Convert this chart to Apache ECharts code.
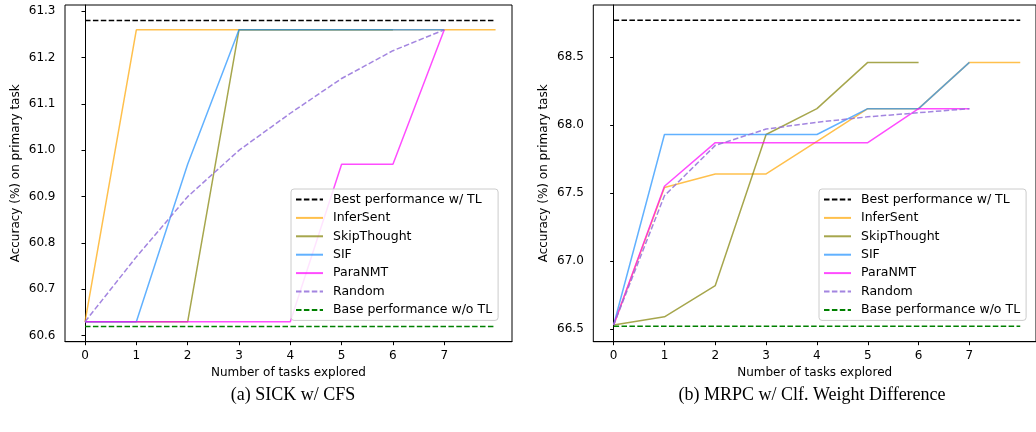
<!DOCTYPE html>
<html>
<head>
<meta charset="utf-8">
<script src="https://cdn.jsdelivr.net/npm/echarts@6/dist/echarts.min.js"></script>
<style>
  html, body { margin: 0; padding: 0; background: #fff; }
  #chart { width: 1036px; height: 432px; }
</style>
</head>
<body>
<div id="chart"></div>
<script>
// tasks explored (x values)
const steps = [0, 1, 2, 3, 4, 5, 6, 7, 8];
const xTicks = [0, 1, 2, 3, 4, 5, 6, 7];

// (a) SICK w/ CFS
const sickTicks = [60.6, 60.7, 60.8, 60.9, 61.0, 61.1, 61.2, 61.3];
const sickBest = 61.28;
const sickBase = 60.62;
const sickInferSent = [60.63, 61.26, 61.26, 61.26, 61.26, 61.26, 61.26, 61.26, 61.26];
const sickSkipThought = [60.63, 60.63, 60.63, 61.26, 61.26, 61.26, 61.26];
const sickSIF = [60.63, 60.63, 60.97, 61.26, 61.26, 61.26, 61.26, 61.26];
const sickParaNMT = [60.63, 60.63, 60.63, 60.63, 60.63, 60.97, 60.97, 61.26];
const sickRandom = [60.63, 60.77, 60.9, 61.0, 61.08, 61.155, 61.215, 61.26];

// (b) MRPC w/ Clf. Weight Difference
const mrpcTicks = [66.5, 67.0, 67.5, 68.0, 68.5];
const mrpcBest = 68.77;
const mrpcBase = 66.52;
const mrpcInferSent = [66.53, 67.54, 67.64, 67.64, 67.88, 68.12, 68.12, 68.46, 68.46];
const mrpcSkipThought = [66.53, 66.59, 66.82, 67.93, 68.12, 68.46, 68.46];
const mrpcSIF = [66.53, 67.93, 67.93, 67.93, 67.93, 68.12, 68.12, 68.46];
const mrpcParaNMT = [66.53, 67.55, 67.87, 67.87, 67.87, 67.87, 68.12, 68.12];
const mrpcRandom = [66.53, 67.48, 67.85, 67.97, 68.02, 68.06, 68.09, 68.12];

const names = ['Best performance w/ TL', 'InferSent', 'SkipThought', 'SIF', 'ParaNMT', 'Random', 'Base performance w/o TL'];
const styles = {
  'Best performance w/ TL': { color: '#000000', type: [5.5, 2.4], opacity: 1 },
  'InferSent': { color: '#FFA500', type: 'solid', opacity: 0.7 },
  'SkipThought': { color: '#808000', type: 'solid', opacity: 0.7 },
  'SIF': { color: '#1E90FF', type: 'solid', opacity: 0.7 },
  'ParaNMT': { color: '#FF00FF', type: 'solid', opacity: 0.7 },
  'Random': { color: '#9370DB', type: [5.5, 2.4], opacity: 0.85 },
  'Base performance w/o TL': { color: '#008000', type: [5.5, 2.4], opacity: 1 },
};

const FONT = 'DejaVu Sans';

function pairs(vals) {
  return vals.map((v, i) => [steps[i], v]);
}
function flat(v) {
  return [[steps[0], v], [steps[steps.length - 1], v]];
}

function makeSeries(idx, best, base, lines) {
  const data = {
    'Best performance w/ TL': flat(best),
    'InferSent': pairs(lines[0]),
    'SkipThought': pairs(lines[1]),
    'SIF': pairs(lines[2]),
    'ParaNMT': pairs(lines[3]),
    'Random': pairs(lines[4]),
    'Base performance w/o TL': flat(base),
  };
  return names.map((n) => ({
    name: n,
    type: 'line',
    xAxisIndex: idx,
    yAxisIndex: idx,
    symbol: 'none',
    animation: false,
    color: styles[n].color,
    lineStyle: { width: 1.5, color: styles[n].color, type: styles[n].type, opacity: styles[n].opacity },
    data: data[n],
  }));
}

function xAxis(idx, min, max) {
  return {
    type: 'value', gridIndex: idx, min: min, max: max,
    name: 'Number of tasks explored', nameLocation: 'middle', nameGap: 25,
    nameTextStyle: { fontFamily: FONT, fontSize: 12, color: '#000' },
    axisLine: { show: true, lineStyle: { color: '#000', width: 1 } },
    axisTick: { show: true, inside: false, length: 3.5, lineStyle: { color: '#000' }, customValues: xTicks },
    axisLabel: { fontFamily: FONT, fontSize: 12, color: '#000', margin: 8.5, customValues: xTicks },
    splitLine: { show: false },
  };
}
function yAxis(idx, min, max, ticks, digits) {
  return {
    type: 'value', gridIndex: idx, min: min, max: max,
    name: 'Accuracy (%) on primary task', nameLocation: 'middle', nameGap: 43,
    nameTextStyle: { fontFamily: FONT, fontSize: 12, color: '#000' },
    axisLine: { show: true, lineStyle: { color: '#000', width: 1 } },
    axisTick: { show: true, inside: false, length: 3.5, lineStyle: { color: '#000' }, customValues: ticks },
    axisLabel: { fontFamily: FONT, fontSize: 12, color: '#000', margin: 9.5, customValues: ticks,
      formatter: (v) => v.toFixed(digits) },
    splitLine: { show: false },
  };
}
function legend(left) {
  return {
    data: names, orient: 'vertical', left: left, top: 189,
    itemWidth: 27, itemHeight: 12, itemGap: 5.4,
    padding: [4, 6, 4, 4],
    backgroundColor: 'rgba(255,255,255,0.85)',
    borderColor: '#cccccc', borderWidth: 1, borderRadius: 3,
    itemStyle: { color: 'transparent', borderWidth: 0, opacity: 0 },
    textStyle: { fontFamily: FONT, fontSize: 12.5, color: '#000', padding: [0, 0, 0, 5] },
    selectedMode: false,
  };
}

const chart = echarts.init(document.getElementById('chart'), null, { renderer: 'canvas' });
chart.setOption({
  backgroundColor: '#fff',
  animation: false,
  title: [
    { text: '(a) SICK w/ CFS', left: 288, top: 381, textAlign: 'center',
      textStyle: { fontFamily: 'Liberation Serif', fontSize: 18, fontWeight: 'normal', color: '#000' } },
    { text: '(b) MRPC w/ Clf. Weight Difference', left: 807, top: 381, textAlign: 'center',
      textStyle: { fontFamily: 'Liberation Serif', fontSize: 18, fontWeight: 'normal', color: '#000' } },
  ],
  legend: [legend(291), legend(819)],
  grid: [
    { left: 65, top: 5, width: 447, height: 336.7, show: true, borderColor: '#000', borderWidth: 1 },
    { left: 593.3, top: 5, width: 447, height: 336.7, show: true, borderColor: '#000', borderWidth: 1 },
  ],
  xAxis: [xAxis(0, -0.39, 8.32), xAxis(1, -0.4, 8.31)],
  yAxis: [yAxis(0, 60.587, 61.3136, sickTicks, 1), yAxis(1, 66.407, 68.882, mrpcTicks, 1)],
  series: [
    ...makeSeries(0, sickBest, sickBase, [sickInferSent, sickSkipThought, sickSIF, sickParaNMT, sickRandom]),
    ...makeSeries(1, mrpcBest, mrpcBase, [mrpcInferSent, mrpcSkipThought, mrpcSIF, mrpcParaNMT, mrpcRandom]),
  ],
});
</script>
</body>
</html>
